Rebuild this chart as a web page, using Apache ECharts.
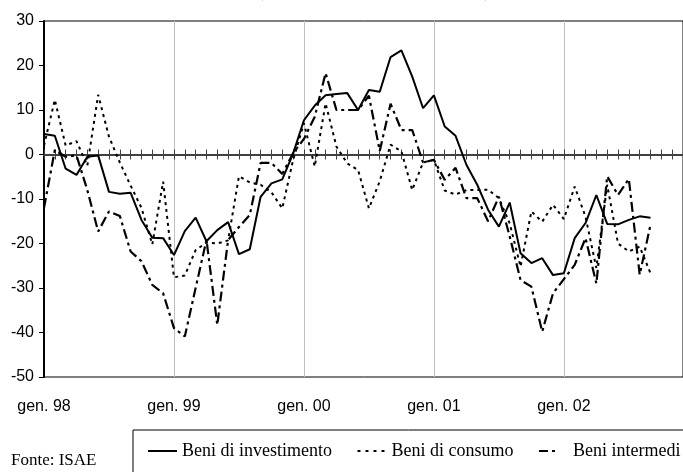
<!DOCTYPE html>
<html>
<head>
<meta charset="utf-8">
<script src="https://cdn.jsdelivr.net/npm/echarts@6/dist/echarts.min.js"></script>
<style>
  html, body { margin: 0; padding: 0; background: #fff; }
  #chart { width: 683px; height: 472px; }
</style>
</head>
<body>
<div id="chart"></div>
<script>
// months gen. 98 ... dic. 02
const years = ['98', '99', '00', '01', '02']
const monthNames = ['gen.', 'feb.', 'mar.', 'apr.', 'mag.', 'giu.', 'lug.', 'ago.', 'set.', 'ott.', 'nov.', 'dic.']
const months = []
years.forEach(y => monthNames.forEach(m => months.push(m + ' ' + y)))

const investimento = [
  4.6, 4.2, -3.2, -4.6, -0.5, -0.2, -8.4, -8.8, -8.6, -14.7, -18.7, -18.8,
  -22.6, -17.2, -14.2, -19.5, -17.0, -15.2, -22.4, -21.3, -9.5, -6.5, -5.6, 0.2,
  7.7, 11.0, 13.3, 13.6, 13.8, 10.0, 14.5, 14.1, 21.9, 23.4, 17.5, 10.4,
  13.3, 6.3, 4.2, -2.3, -6.8, -12.4, -16.2, -10.8, -22.2, -24.4, -23.3, -27.1,
  -26.7, -18.8, -15.4, -9.1, -15.6, -15.7, -14.7, -13.9, -14.2
]

const consumo = [
  2.0, 12.3, 2.0, 3.0, -2.5, 13.4, 4.0, -1.8, -7.0, -12.0, -20.2, -6.1,
  -27.6, -27.2, -21.5, -19.8, -20.0, -19.3, -4.9, -6.3, -6.8, -8.5, -12.1, -1.2,
  7.0, -2.7, 11.5, 1.8, -2.0, -3.5, -12.1, -6.0, 2.2, 0.7, -8.0, -1.8,
  -1.2, -8.1, -9.0, -8.0, -8.0, -7.9, -9.8, -15.5, -25.2, -12.8, -15.1, -11.3,
  -14.5, -7.2, -14.0, -25.5, -6.8, -20.0, -21.8, -20.7, -26.7
]

const intermedi = [
  -12.0, 1.0, -0.5, -0.2, -8.0, -17.3, -12.8, -13.8, -21.8, -24.0, -29.3, -31.2,
  -39.0, -40.9, -30.0, -19.2, -38.3, -19.2, -16.3, -13.6, -1.9, -1.9, -4.4, 0.3,
  3.5, 8.5, 18.3, 10.0, 10.0, 10.0, 13.2, 0.8, 11.4, 5.5, 5.5, -1.8,
  -1.2, -5.7, -3.0, -9.8, -9.8, -15.0, -9.5, -18.4, -28.2, -29.7, -39.8, -31.2,
  -28.0, -24.8, -18.8, -29.0, -4.9, -9.1, -5.5, -27.0, -15.8
]

const seriesNames = ['Beni di investimento', 'Beni di consumo', 'Beni intermedi']

const chart = echarts.init(document.getElementById('chart'))

const isJan = (i) => i % 12 === 0
const sans = 'Liberation Sans'
const serif = 'Liberation Serif'

// legend keys drawn as filled bars: solid, dots, dash-dot
const legendIcons = [
  'path://M0,0h29v2h-29z',
  'path://M0,0h3v2h-3z M8,0h3v2h-3z M16,0h3v2h-3z M24,0h3v2h-3z M29,0h0v2h0z',
  'path://M0,0h9v2h-9z M13,0h3v2h-3z M29,0h0v2h0z'
]

const zeroAxis = (inside) => ({
  type: 'category',
  data: months,
  boundaryGap: false,
  position: 'bottom',
  axisLine: { show: true, onZero: true, onZeroAxisIndex: 0, lineStyle: { color: '#404040', width: 2 } },
  axisTick: { show: true, interval: 0, inside: inside, length: 5, lineStyle: { color: '#404040', width: 1 } },
  axisLabel: { show: false },
  splitLine: { show: false }
})

chart.setOption({
  animation: false,
  backgroundColor: '#fff',
  title: [
    {
      text: '(saldi destagionalizzati)',
      left: 255,
      top: -24,
      padding: 0,
      textStyle: { fontFamily: serif, fontSize: 25, fontWeight: 'normal', color: '#000' }
    },
    {
      text: 'Fonte: ISAE',
      left: 11,
      top: 452,
      padding: 0,
      textStyle: { fontFamily: serif, fontSize: 17, fontWeight: 'normal', color: '#000' }
    }
  ],
  legend: {
    left: 133,
    top: 430,
    width: 650,
    padding: [12, 15, 20, 15],
    itemGap: 25.5,
    itemWidth: 29,
    itemHeight: 2,
    borderColor: '#000',
    borderWidth: 1,
    data: seriesNames.map((name, i) => ({ name: name, icon: legendIcons[i] })),
    itemStyle: { color: '#000', borderWidth: 0 },
    textStyle: { fontFamily: serif, fontSize: 18, color: '#000' }
  },
  grid: {
    left: 44,
    top: 21,
    right: -5,
    bottom: 95,
    show: true,
    borderColor: '#000',
    borderWidth: 1,
    backgroundColor: 'transparent'
  },
  xAxis: [
    {
      type: 'category',
      data: months,
      boundaryGap: false,
      position: 'bottom',
      axisLine: { show: false, onZero: false },
      axisTick: { show: false },
      axisLabel: {
        interval: (i) => isJan(i),
        margin: 22,
        color: '#000',
        fontFamily: sans,
        fontSize: 16
      },
      splitLine: {
        show: true,
        interval: (i) => isJan(i),
        lineStyle: { color: '#c0c0c0', width: 1 }
      }
    },
    zeroAxis(false),
    zeroAxis(true)
  ],
  yAxis: {
    type: 'value',
    min: -50,
    max: 30,
    interval: 10,
    axisLine: { show: true, lineStyle: { color: '#000', width: 2 } },
    axisTick: { show: true, length: 5, lineStyle: { color: '#000', width: 1 } },
    axisLabel: { margin: 10, color: '#000', fontFamily: sans, fontSize: 16 },
    splitLine: { show: false }
  },
  series: [
    {
      name: seriesNames[0],
      type: 'line',
      data: investimento,
      symbol: 'none',
      lineStyle: { color: '#000', width: 2, type: 'solid' },
      itemStyle: { color: '#000' },
      z: 4
    },
    {
      name: seriesNames[1],
      type: 'line',
      data: consumo,
      symbol: 'none',
      lineStyle: { color: '#000', width: 2, type: [3, 4] },
      itemStyle: { color: '#000' },
      z: 3
    },
    {
      name: seriesNames[2],
      type: 'line',
      data: intermedi,
      symbol: 'none',
      lineStyle: { color: '#000', width: 2.2, type: [10, 4, 3, 4] },
      itemStyle: { color: '#000' },
      z: 3
    }
  ]
})
</script>
</body>
</html>
